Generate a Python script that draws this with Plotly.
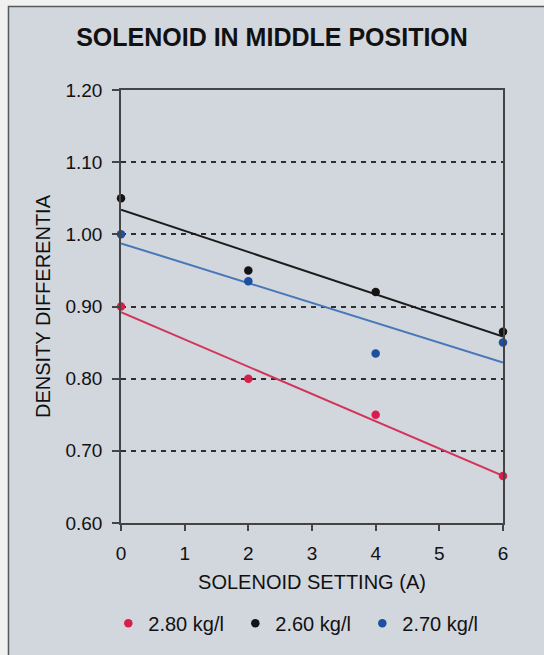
import numpy as np
import plotly.graph_objects as go

# Solenoid current settings (A)
settings = [0, 2, 4, 6]

# Density differential measured for each fluid density
series_names = ["2.80 kg/l", "2.60 kg/l", "2.70 kg/l"]
diff_280 = [0.90, 0.80, 0.75, 0.665]
diff_260 = [1.05, 0.95, 0.92, 0.865]
diff_270 = [1.00, 0.935, 0.835, 0.85]

dot_colors = ["#d81f4b", "#141414", "#1d4f9f"]
line_colors = ["#d2355c", "#1c1c1c", "#4677b8"]

y_ticks = [0.60, 0.70, 0.80, 0.90, 1.00, 1.10, 1.20]
x_ticks = [0, 1, 2, 3, 4, 5, 6]

FONT = "Arial, 'Liberation Sans', sans-serif"

W, H = 544, 655
L, R, T, B = 120.7, 40.7, 89.5, 132.3
pw, ph = W - L - R, H - T - B


def px_x(px):
    return (px - L) / pw


def px_y(py):
    return 1 - (py - T) / ph


fig = go.Figure()

all_series = [diff_280, diff_260, diff_270]

# Least-squares trend lines
for vals, col in zip(all_series, line_colors):
    slope, icpt = np.polyfit(settings, vals, 1)
    xs = [settings[0], settings[-1]]
    fig.add_trace(go.Scatter(
        x=xs, y=[icpt + slope * v for v in xs], mode="lines",
        line=dict(color=col, width=2), showlegend=False, hoverinfo="skip",
        cliponaxis=False,
    ))

# Measured points
for name, vals, col in zip(series_names, all_series, dot_colors):
    fig.add_trace(go.Scatter(
        x=settings, y=vals, mode="markers", name=name,
        marker=dict(color=col, size=8.5, line=dict(width=0)),
        cliponaxis=False,
    ))

# Grey panel behind the chart, with its frame
fig.add_shape(type="rect", xref="paper", yref="paper",
              x0=px_x(8), x1=px_x(W + 5), y0=px_y(H + 5), y1=px_y(6),
              fillcolor="#d2d6dd", line=dict(color="#555a60", width=1.5),
              layer="below")

fig.update_layout(
    width=W, height=H,
    margin=dict(l=L, r=R, t=T, b=B),
    paper_bgcolor="#f1f1f1",
    plot_bgcolor="#efefef",
    font=dict(family=FONT, color="#111111", size=19),
    title=dict(text="<b>SOLENOID IN MIDDLE POSITION</b>",
               x=0.5, xanchor="center", xref="container",
               y=1 - 37.5 / H, yanchor="middle", yref="container",
               font=dict(size=25, color="#111111", family=FONT)),
    showlegend=True,
    legend=dict(orientation="h", x=px_x(108), xanchor="left",
                y=px_y(623), yanchor="middle",
                bgcolor="rgba(0,0,0,0)", font=dict(size=20),
                itemsizing="trace", entrywidth=82, entrywidthmode="pixels"),
)

fig.update_xaxes(
    range=[0, 6], tickvals=x_ticks, ticktext=[str(v) for v in x_ticks],
    showline=True, linecolor="#444", linewidth=1.5, mirror=True,
    ticks="outside", ticklen=6, tickcolor="#444", tickwidth=1.5,
    showgrid=False, zeroline=False,
    tickfont=dict(size=19), ticklabelstandoff=6,
    title=dict(text="SOLENOID SETTING (A)", font=dict(size=20), standoff=12),
)

fig.update_yaxes(
    range=[0.6, 1.2], tickvals=y_ticks, ticktext=[f"{v:.2f}" for v in y_ticks],
    showline=True, linecolor="#444", linewidth=1.5, mirror=True,
    ticks="outside", ticklen=7, tickcolor="#444", tickwidth=1.5,
    showgrid=True, gridcolor="#2e2e2e", gridwidth=1.5, griddash="5px,5px",
    zeroline=False,
    tickfont=dict(size=19), ticklabelstandoff=6,
    title=dict(text="DENSITY DIFFERENTIA", font=dict(size=20), standoff=9),
)

fig.write_html("out.html")
